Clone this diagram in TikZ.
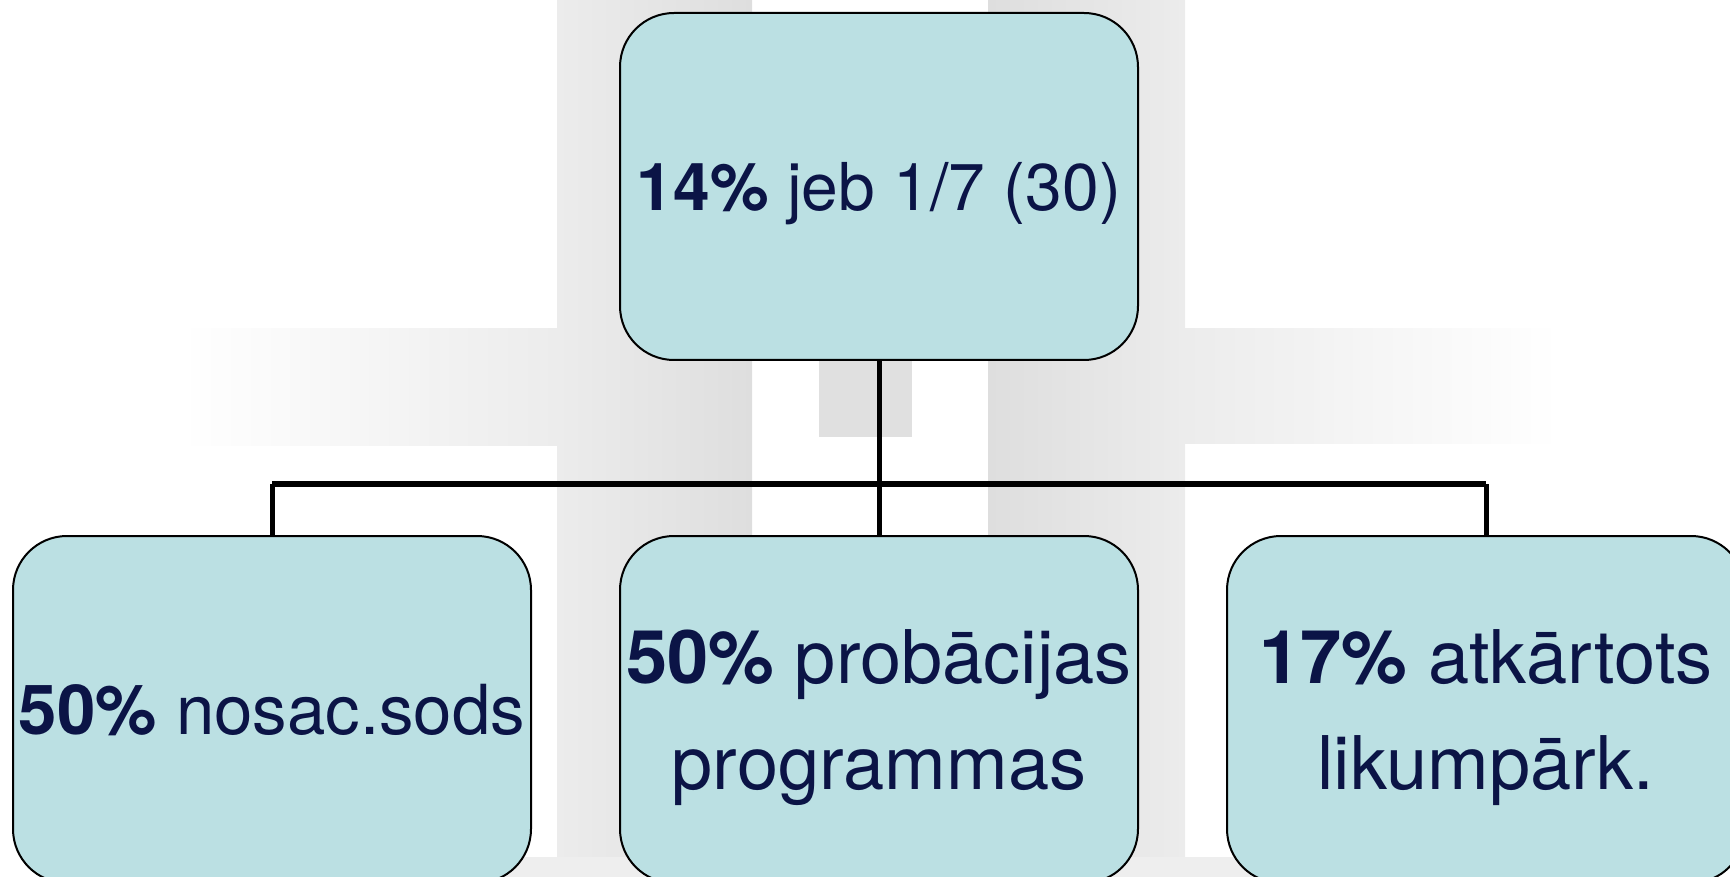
\documentclass[tikz,border=0pt]{standalone}
\usepackage{fontspec}
\setmainfont{TeX Gyre Heros}
\usetikzlibrary{positioning}
\definecolor{boxfill}{HTML}{BBE0E3}
\definecolor{boxtext}{HTML}{0B1446}
\definecolor{bandgray}{HTML}{DEDEDE}
\definecolor{bandlight}{HTML}{ECECEC}
\tikzset{
  infobox/.style={draw=black,line width=1pt,fill=boxfill,text=boxtext,
    rounded corners=27pt,minimum width=259pt,minimum height=173.5pt,
    inner sep=2pt,text depth=0pt,align=center},
  conn/.style={line width=2.5pt},
  busline/.style={line width=3pt}
}
\begin{document}
\begin{tikzpicture}[x=0.5pt,y=-0.5pt]
      % one unit is one pixel of the 1730 x 877 slide, y runs downwards
      \path[use as bounding box] (0,0) rectangle (1730,877);
      \clip (0,0) rectangle (1730,877);
      % faint watermark in the background
      \shade[left color=bandlight,right color=bandgray] (557,0) rectangle (752,877);
      \shade[left color=bandgray,right color=bandlight] (988,0) rectangle (1185,877);
      \shade[left color=white,right color=bandlight] (181,329) rectangle (557,445);
      \shade[left color=bandlight,right color=white] (1185,329) rectangle (1560,443);
      \fill[bandlight!90!white] (181,857) rectangle (1560,877);
      \fill[bandgray!95!white] (819,350) rectangle (912,437);
      % boxes
      \node[infobox,font=\fontsize{33}{40}\selectfont] (top) at (879,186.5)
        {\textbf{14\%} jeb 1/7 (30)};
      \node[infobox,font=\fontsize{37}{53}\selectfont,below=87pt of top] (probacija)
        {\textbf{50\%} probācijas\\programmas};
      \node[infobox,font=\fontsize{34.5}{53}\selectfont,left=43.5pt of probacija] (sods)
        {\textbf{50\%} nosac.sods};
      \node[infobox,font=\fontsize{37}{53}\selectfont,right=43.5pt of probacija] (recidivs)
        {\textbf{17\%} atkārtots\\likumpārk.};
      % connectors
      \coordinate (bus) at (879,484);
      \draw[conn] (top.south) -- (top.south |- bus);
      \draw[busline] (sods.north |- bus) -- (recidivs.north |- bus);
      \foreach \n in {sods,probacija,recidivs}
        \draw[conn] (\n.north) -- (\n.north |- bus);
    \end{tikzpicture}
\end{document}
